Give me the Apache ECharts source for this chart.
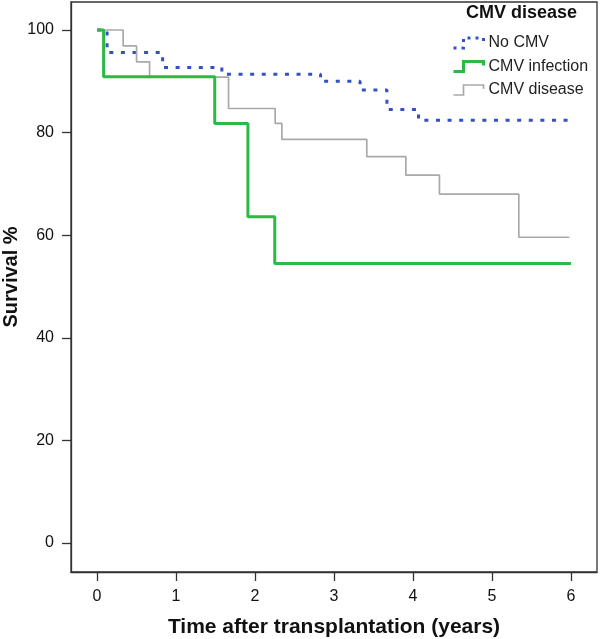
<!DOCTYPE html>
<html>
<head>
<meta charset="utf-8">
<script src="https://cdn.jsdelivr.net/npm/echarts@6/dist/echarts.min.js"></script>
<style>
html,body{margin:0;padding:0;background:#fff;}
#chart{width:600px;height:639px;}
</style>
</head>
<body>
<div id="chart"></div>
<script>
// Kaplan-Meier step data (time in years, survival %)
var noCmvTimes = [0, 0.127, 0.83, 1.58, 2.83, 3.33, 3.67, 4.07, 6];
var noCmvValues = [100, 95.6, 92.7, 91.4, 90.0, 88.3, 84.5, 82.4, 82.4];

var infectionTimes = [0, 0.083, 1.49, 1.91, 2.25, 6];
var infectionValues = [100, 90.9, 81.8, 63.6, 54.5, 54.5];

var diseaseTimes = [0, 0.33, 0.50, 0.665, 1.665, 2.255, 2.34, 3.415, 3.91, 4.335, 5.34, 5.98];
var diseaseValues = [100, 96.9, 93.8, 90.8, 84.7, 81.8, 78.7, 75.3, 71.7, 68.0, 59.6, 59.6];

var seriesNames = ['No CMV', 'CMV infection', 'CMV disease'];
var xTickValues = [0, 1, 2, 3, 4, 5, 6];
var yTickValues = [0, 20, 40, 60, 80, 100];

function pairs(xs, ys) {
  var out = [];
  for (var i = 0; i < xs.length; i++) out.push([xs[i], ys[i]]);
  return out;
}

var FONT = '"Liberation Sans", Arial, sans-serif';
var blue = '#3352c2', green = '#2cb944', grey = '#a9a9a9';
var stepIcon = 'path://M0,10L10,10L10,0L30,0L30,4';

var chart = echarts.init(document.getElementById('chart'));
chart.setOption({
  animation: false,
  backgroundColor: '#fff',
  title: {
    text: 'CMV disease',
    right: 23, top: 4, padding: 0,
    textStyle: {fontFamily: FONT, fontSize: 18, fontWeight: 'bold', color: '#111'}
  },
  legend: {
    orient: 'vertical',
    left: 451, top: 34,
    itemWidth: 30, itemHeight: 10, itemGap: 5.5, padding: 0,
    textStyle: {fontFamily: FONT, fontSize: 16, color: '#222', lineHeight: 18},
    data: [
      {name: seriesNames[0], icon: stepIcon, itemStyle: {color: 'none', borderColor: blue, borderWidth: 3, borderType: [3, 5]}},
      {name: seriesNames[1], icon: stepIcon, itemStyle: {color: 'none', borderColor: green, borderWidth: 3}},
      {name: seriesNames[2], icon: stepIcon, itemStyle: {color: 'none', borderColor: grey, borderWidth: 1.7}}
    ]
  },
  grid: {left: 71, right: 3, top: 2, bottom: 67, containLabel: false, outerBoundsMode: 'none',
         show: true, borderColor: '#333', borderWidth: 1.3, backgroundColor: 'transparent'},
  xAxis: {
    type: 'value', min: -0.33, max: 6.33,
    name: 'Time after transplantation (years)',
    nameLocation: 'middle', nameGap: 45, nameMoveOverlap: false,
    nameTextStyle: {fontFamily: FONT, fontSize: 21, fontWeight: 'bold', color: '#111'},
    axisLine: {show: true, onZero: false, lineStyle: {color: '#333', width: 1.3}},
    axisTick: {show: true, length: 9, lineStyle: {color: '#333', width: 1.3}, customValues: xTickValues},
    axisLabel: {fontFamily: FONT, fontSize: 16, color: '#111', margin: 17, customValues: xTickValues},
    splitLine: {show: false}
  },
  yAxis: {
    type: 'value', min: -5.65, max: 105.46,
    name: 'Survival %',
    nameLocation: 'middle', nameGap: 50, nameMoveOverlap: false,
    nameTextStyle: {fontFamily: FONT, fontSize: 20, fontWeight: 'bold', color: '#111', padding: [0, 0, 0, 20]},
    axisLine: {show: true, onZero: false, lineStyle: {color: '#333', width: 1.3}},
    axisTick: {show: true, length: 9, lineStyle: {color: '#333', width: 1.3}, customValues: yTickValues},
    axisLabel: {fontFamily: FONT, fontSize: 16, color: '#111', margin: 17, customValues: yTickValues},
    splitLine: {show: false}
  },
  series: [
    {name: seriesNames[0], type: 'line', step: 'end', symbol: 'none', z: 2,
     data: pairs(noCmvTimes, noCmvValues),
     itemStyle: {color: blue},
     lineStyle: {color: blue, width: 3, type: [4, 7.6], cap: 'butt'}},
    {name: seriesNames[2], type: 'line', step: 'end', symbol: 'none', z: 3,
     data: pairs(diseaseTimes, diseaseValues),
     itemStyle: {color: grey},
     lineStyle: {color: grey, width: 1.7}},
    {name: seriesNames[1], type: 'line', step: 'end', symbol: 'none', z: 4,
     data: pairs(infectionTimes, infectionValues),
     itemStyle: {color: green},
     lineStyle: {color: green, width: 3}}
  ]
});
</script>
</body>
</html>
